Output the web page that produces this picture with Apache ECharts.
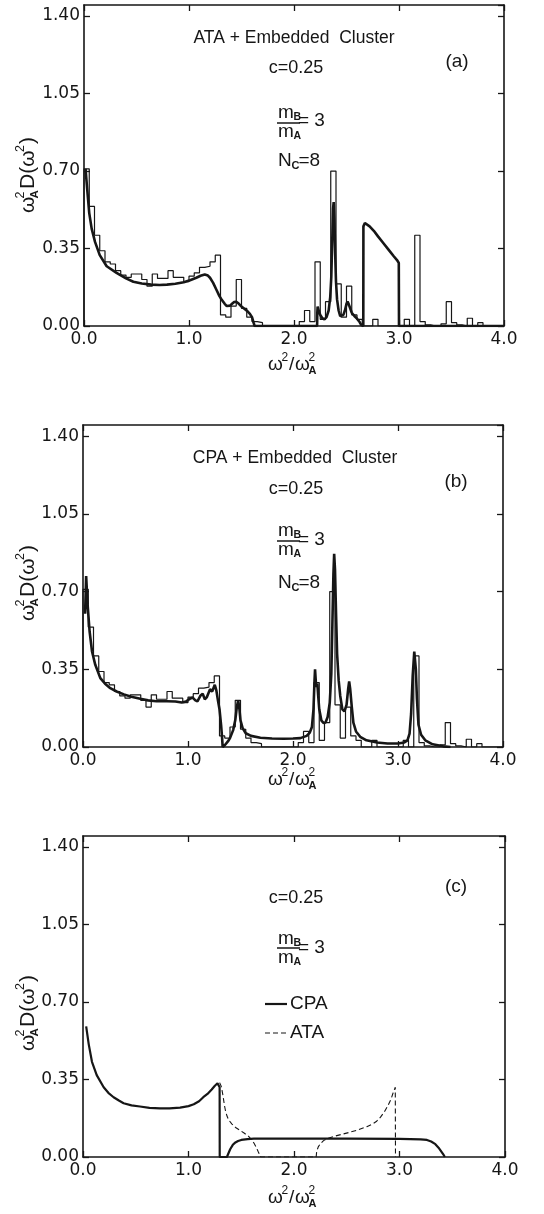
<!DOCTYPE html>
<html><head><meta charset="utf-8">
<script src="https://cdn.jsdelivr.net/npm/echarts@6/dist/echarts.min.js"></script>
<style>html,body{margin:0;padding:0;background:#fff}#c{width:544px;height:1214px}</style>
</head><body><div id="c"></div>
<script>
// ---------------- data ----------------
const xTickLabels = ['0.0', '1.0', '2.0', '3.0', '4.0'];
const yTickLabels = ['0.00', '0.35', '0.70', '1.05', '1.40'];

// exact-simulation histogram (same in panels a and b), bins of width 0.05 from 0 to 4.0
const histBinWidth = 0.05;
const histHeights = [
  0.71, 0.54, 0.41, 0.34, 0.29, 0.28, 0.25, 0.23, 0.22, 0.235,
  0.235, 0.21, 0.18, 0.235, 0.215, 0.215, 0.25, 0.22, 0.22, 0.20,
  0.225, 0.24, 0.265, 0.27, 0.29, 0.32, 0.05, 0.04, 0.09, 0.21,
  0.08, 0.04, 0.02, 0.015, 0, 0, 0, 0, 0, 0,
  0, 0.02, 0.07, 0.02, 0.29, 0.03, 0.11, 0.70, 0.19, 0.04,
  0.18, 0.05, 0.03, 0, 0, 0.03, 0, 0, 0, 0,
  0, 0.03, 0, 0.41, 0.02, 0.005, 0, 0, 0.01, 0.11,
  0.015, 0.005, 0, 0.035, 0, 0.015, 0, 0, 0, 0
];

// (a) ATA + embedded cluster
const ataClusterCurve = [
  [0.015,0.71],[0.03,0.62],[0.05,0.51],[0.073,0.44],[0.105,0.38],[0.15,0.32],[0.216,0.27],[0.31,0.24],
  [0.40,0.215],[0.47,0.20],[0.55,0.192],[0.64,0.187],[0.72,0.185],[0.79,0.187],[0.87,0.191],[0.95,0.198],
  [1.01,0.207],[1.07,0.218],[1.11,0.227],[1.15,0.233],[1.18,0.228],[1.20,0.218],[1.23,0.195],[1.26,0.165],
  [1.29,0.135],[1.31,0.12],[1.34,0.10],[1.36,0.09],[1.39,0.092],[1.41,0.10],[1.43,0.108],[1.45,0.11],
  [1.475,0.10],[1.50,0.088],[1.53,0.077],[1.56,0.065],[1.58,0.055],[1.60,0.04],[1.615,0.015],[1.625,0],
  [2.22,0],[2.222,0.06],[2.225,0.088],[2.235,0.07],[2.25,0.05],[2.27,0.035],[2.29,0.03],[2.31,0.04],
  [2.33,0.07],[2.345,0.13],[2.355,0.22],[2.365,0.40],[2.372,0.53],[2.378,0.56],[2.385,0.48],[2.392,0.33],
  [2.40,0.20],[2.41,0.12],[2.425,0.07],[2.44,0.045],[2.455,0.04],[2.47,0.05],[2.485,0.07],[2.50,0.10],
  [2.51,0.11],[2.52,0.10],[2.535,0.08],[2.55,0.06],[2.575,0.045],[2.60,0.033],[2.625,0.018],[2.64,0.005],
  [2.645,0],[2.66,0],[2.661,0.45],[2.675,0.465],[2.69,0.462],[2.72,0.45],[2.76,0.43],[2.80,0.405],
  [2.85,0.375],[2.90,0.345],[2.95,0.315],[2.985,0.295],[2.998,0.285],[3.0,0],[4.0,0]
];

// (b) CPA + embedded cluster
const cpaClusterCurve = [
  [0.02,0.60],[0.03,0.77],[0.044,0.64],[0.063,0.52],[0.086,0.43],[0.117,0.37],[0.165,0.31],[0.21,0.285],
  [0.26,0.265],[0.32,0.25],[0.39,0.237],[0.46,0.226],[0.545,0.217],[0.62,0.21],[0.70,0.206],[0.80,0.206],
  [0.88,0.205],[0.94,0.20],[0.98,0.205],[1.02,0.218],[1.045,0.222],[1.07,0.21],[1.09,0.206],[1.12,0.232],
  [1.14,0.24],[1.16,0.215],[1.18,0.225],[1.21,0.26],[1.23,0.25],[1.255,0.28],[1.27,0.255],[1.285,0.21],
  [1.30,0.17],[1.315,0.10],[1.325,0.04],[1.33,0],
  [1.35,0.008],[1.38,0.025],[1.40,0.04],[1.43,0.076],[1.45,0.12],[1.465,0.18],[1.478,0.21],[1.49,0.17],
  [1.50,0.12],[1.52,0.085],[1.55,0.062],[1.60,0.05],[1.69,0.042],[1.80,0.038],[1.91,0.037],[2.00,0.038],
  [2.07,0.04],[2.13,0.05],[2.16,0.065],[2.18,0.09],[2.195,0.17],[2.205,0.30],[2.21,0.35],[2.218,0.29],
  [2.225,0.27],[2.232,0.285],[2.24,0.23],[2.25,0.17],[2.27,0.12],[2.29,0.108],[2.31,0.11],[2.33,0.135],
  [2.35,0.20],[2.365,0.33],[2.375,0.55],[2.385,0.78],[2.392,0.87],[2.40,0.80],[2.41,0.60],[2.42,0.42],
  [2.435,0.30],[2.45,0.23],[2.47,0.17],[2.49,0.16],[2.51,0.19],[2.525,0.26],[2.535,0.295],[2.545,0.26],
  [2.56,0.18],[2.575,0.11],[2.60,0.07],[2.64,0.046],[2.70,0.03],[2.80,0.02],[2.90,0.016],[3.00,0.016],
  [3.06,0.02],[3.09,0.03],[3.11,0.06],[3.125,0.15],[3.14,0.32],[3.155,0.43],[3.17,0.35],[3.18,0.22],
  [3.195,0.10],[3.22,0.055],[3.26,0.03],[3.33,0.012],[3.43,0.003],[3.50,0]
];

// (c) CPA and ATA
const cpaCurve = [
  [0.03,0.59],[0.054,0.51],[0.085,0.43],[0.13,0.37],[0.196,0.315],[0.24,0.29],[0.29,0.27],[0.34,0.255],
  [0.385,0.243],[0.46,0.233],[0.54,0.228],[0.63,0.222],[0.73,0.22],[0.82,0.22],[0.92,0.223],[1.00,0.23],
  [1.05,0.238],[1.10,0.252],[1.14,0.27],[1.18,0.285],[1.22,0.305],[1.25,0.322],[1.275,0.333],[1.288,0.33],
  [1.295,0.315],[1.296,0],[1.364,0],[1.38,0.018],[1.395,0.035],[1.42,0.055],[1.44,0.064],[1.47,0.072],
  [1.50,0.077],[1.56,0.081],[1.62,0.083],[2.00,0.083],[2.50,0.083],[3.00,0.082],[3.20,0.08],[3.26,0.077],
  [3.30,0.07],[3.34,0.058],[3.37,0.042],[3.40,0.022],[3.42,0.008],[3.43,0]
];
const ataCurve = [
  [1.295,0.336],[1.31,0.32],[1.326,0.28],[1.34,0.235],[1.35,0.21],[1.365,0.185],[1.38,0.168],[1.41,0.15],
  [1.45,0.132],[1.49,0.12],[1.53,0.107],[1.57,0.093],[1.60,0.077],[1.62,0.063],[1.64,0.046],[1.66,0.025],
  [1.675,0.01],[1.685,0],[2.21,0],[2.215,0.025],[2.23,0.046],[2.25,0.06],[2.28,0.074],[2.32,0.084],
  [2.37,0.092],[2.45,0.102],[2.53,0.112],[2.61,0.123],[2.69,0.137],[2.74,0.148],[2.78,0.16],[2.82,0.18],
  [2.86,0.207],[2.89,0.232],[2.92,0.262],[2.94,0.29],[2.96,0.315],[2.962,0]
];

// ---------------- chart ----------------
const INK = '#161616';
const FONT = '"Liberation Sans", Arial, sans-serif';
const TICKFONT = '"DejaVu Sans", sans-serif';
const histSteps = [[0, 0]].concat(histHeights.map((h, k) => [k * histBinWidth, h]))
  .concat([[histHeights.length * histBinWidth, 0]]);

const grids = [
  {left: 84, top: 5, width: 420, height: 321},
  {left: 83, top: 425, width: 420, height: 322},
  {left: 83, top: 836, width: 422, height: 321}
];

const xAxes = [], yAxes = [];
grids.forEach((g, i) => {
  xAxes.push({
    gridIndex: i, type: 'value', min: 0, max: 4, interval: 1, position: 'bottom',
    axisLine: {show: true, onZero: false, lineStyle: {color: INK, width: 1.6}},
    axisTick: {show: true, inside: true, length: 6, lineStyle: {color: INK, width: 1.3}},
    axisLabel: {show: true, margin: 5, color: INK, fontSize: 17, fontFamily: TICKFONT,
      formatter: v => xTickLabels[Math.round(v)] || ''},
    splitLine: {show: false}
  });
  xAxes.push({
    gridIndex: i, type: 'value', min: 0, max: 4, interval: 1, position: 'top',
    axisLine: {show: true, onZero: false, lineStyle: {color: INK, width: 1.6}},
    axisTick: {show: true, inside: true, length: 6, lineStyle: {color: INK, width: 1.3}},
    axisLabel: {show: false}, splitLine: {show: false}
  });
  yAxes.push({
    gridIndex: i, type: 'value', min: 0, max: 1.45, interval: 0.35, position: 'left',
    axisLine: {show: true, onZero: false, lineStyle: {color: INK, width: 1.6}},
    axisTick: {show: true, inside: true, length: 6, lineStyle: {color: INK, width: 1.3}},
    axisLabel: {show: true, margin: 4, color: INK, fontSize: 17, fontFamily: TICKFONT, showMaxLabel: false,
      formatter: v => { const k = Math.round(v / 0.35); return Math.abs(k * 0.35 - v) < 1e-6 ? (yTickLabels[k] || '') : ''; }},
    splitLine: {show: false}
  });
  yAxes.push({
    gridIndex: i, type: 'value', min: 0, max: 1.45, interval: 0.35, position: 'right',
    axisLine: {show: true, onZero: false, lineStyle: {color: INK, width: 1.6}},
    axisTick: {show: true, inside: true, length: 6, lineStyle: {color: INK, width: 1.3}},
    axisLabel: {show: false}, splitLine: {show: false}
  });
});

function lineSeries(gi, data, width, type) {
  return {
    type: 'line', xAxisIndex: gi * 2, yAxisIndex: gi * 2, data: data,
    showSymbol: false, symbol: 'none', smooth: false, silent: true,
    lineStyle: {color: INK, width: width, type: type || 'solid'}, z: 3
  };
}
function histSeries(gi) {
  const s = lineSeries(gi, histSteps, 1.2);
  s.step = 'end';
  s.z = 2;
  return s;
}

const series = [
  histSeries(0), lineSeries(0, ataClusterCurve, 2.6),
  histSeries(1), lineSeries(1, cpaClusterCurve, 2.6),
  lineSeries(2, cpaCurve, 2.2), lineSeries(2, ataCurve, 1.1, [5, 3])
];

// ---------------- text annotations ----------------
function t(x, y, s, size, opts) {
  opts = opts || {};
  return {type: 'text', x: x, y: y, silent: true, style: {
    text: s, fontSize: size, fontFamily: opts.font || FONT, fontWeight: opts.bold ? 'bold' : 'normal',
    fill: INK, align: opts.align || 'left', verticalAlign: 'middle'}};
}
function yTitle(cx, cy) {
  return {type: 'group', x: cx, y: cy + 39, rotation: Math.PI / 2, silent: true, children: [
    t(0, 0, 'ω', 21), t(14.5, -7.5, '2', 12.5), t(14.5, 6.5, 'A', 11.5, {bold: true}),
    t(24, 0, 'D(ω', 21), t(61, -7.5, '2', 12.5), t(69, 0, ')', 21)
  ]};
}
function xTitle(cx, cy) {
  return {type: 'group', x: cx - 25, y: cy, silent: true, children: [
    t(0, 0, 'ω', 19), t(13.5, -7, '2', 12), t(21, 0, '/', 19),
    t(27, 0, 'ω', 19), t(40.5, -7, '2', 12), t(40.5, 6, 'A', 11, {bold: true})
  ]};
}
function massRatio(x, yB, yBar, yA, yEq) {
  return {type: 'group', silent: true, children: [
    t(x, yB, 'm', 19), t(x + 15.5, yB + 4, 'B', 10.5, {bold: true}),
    {type: 'line', shape: {x1: x - 1, y1: yBar, x2: x + 22, y2: yBar}, style: {stroke: INK, lineWidth: 1.5}},
    t(x, yA, 'm', 19), t(x + 15.5, yA + 4, 'A', 10.5, {bold: true}),
    t(x + 20, yEq, '= 3', 19)
  ]};
}
function nc(x, y) {
  return {type: 'group', silent: true, children: [
    t(x, y, 'N', 19), t(x + 13.5, y + 5, 'C', 11, {bold: true}), t(x + 20.5, y, '=8', 19)
  ]};
}

const graphic = [
  // panel a
  t(294, 38, 'ATA + Embedded  Cluster', 17.5, {align: 'center'}),
  t(457, 62, '(a)', 19, {align: 'center'}),
  t(296, 68, 'c=0.25', 18, {align: 'center'}),
  massRatio(278, 113, 123, 132, 121),
  nc(278, 161),
  yTitle(28, 174), xTitle(293, 365),
  // panel b
  t(295, 458, 'CPA + Embedded  Cluster', 17.5, {align: 'center'}),
  t(456, 482, '(b)', 19, {align: 'center'}),
  t(296, 489, 'c=0.25', 18, {align: 'center'}),
  massRatio(278, 531, 541, 550, 540),
  nc(278, 583),
  yTitle(28, 582), xTitle(293, 780),
  // panel c
  t(456, 887, '(c)', 19, {align: 'center'}),
  t(296, 898, 'c=0.25', 18, {align: 'center'}),
  massRatio(278, 939, 948, 958, 948),
  {type: 'line', silent: true, shape: {x1: 265, y1: 1004, x2: 287, y2: 1004}, style: {stroke: INK, lineWidth: 2.2}},
  t(290, 1004, 'CPA', 19),
  {type: 'line', silent: true, shape: {x1: 265, y1: 1033, x2: 287, y2: 1033}, style: {stroke: INK, lineWidth: 1.1, lineDash: [5, 3]}},
  t(290, 1033, 'ATA', 19),
  yTitle(28, 1012), xTitle(293, 1198)
];

const chart = echarts.init(document.getElementById('c'), null, {renderer: 'canvas'});
chart.setOption({
  animation: false,
  backgroundColor: '#ffffff',
  grid: grids,
  xAxis: xAxes,
  yAxis: yAxes,
  series: series,
  graphic: graphic
});
</script>
</body></html>
